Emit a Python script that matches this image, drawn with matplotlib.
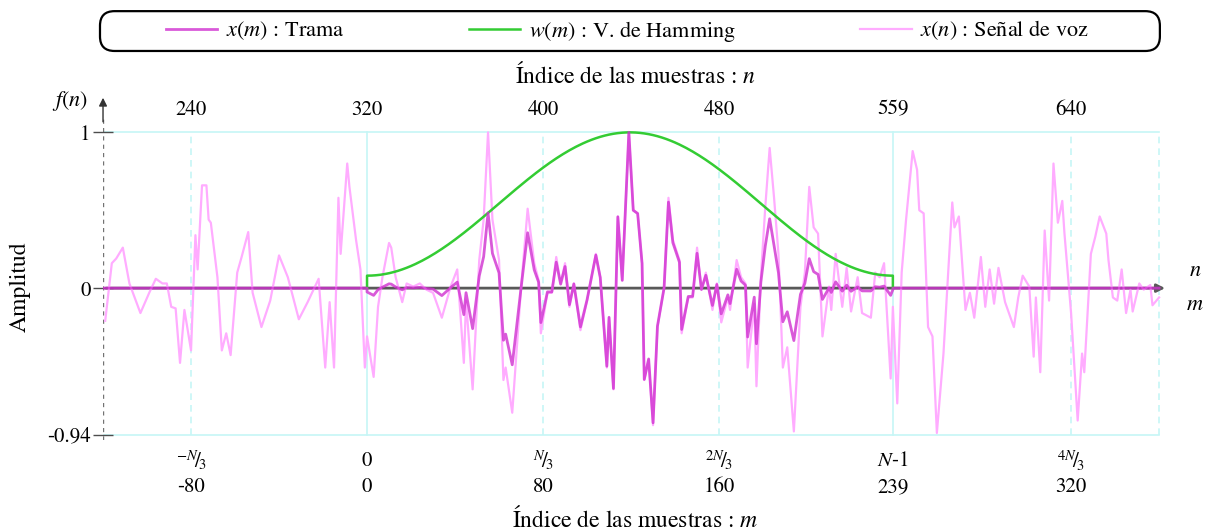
import numpy as np
import matplotlib
matplotlib.use("Agg")
import matplotlib.pyplot as plt
from matplotlib.patches import FancyBboxPatch
from matplotlib.transforms import blended_transform_factory

plt.rcParams['font.family'] = ['STIXGeneral', 'DejaVu Serif']
plt.rcParams['mathtext.fontset'] = 'stix'

# speech signal x(n) (sample index, amplitude)
n_sig = [201, 204, 206, 209, 212, 217, 221, 224, 227, 229, 231, 233, 235, 237, 240,
         242, 243, 245, 247, 248, 249, 252, 254, 256, 258, 261, 263, 266, 268, 272,
         276, 280, 284, 289, 293, 298, 301, 303, 305, 307, 308, 311, 312, 315, 317,
         319, 320, 323, 325, 327, 330, 331, 333, 336, 338, 341, 344, 347, 350, 354,
         358, 361, 364, 365, 368, 371, 373, 375, 377, 380, 382, 383, 386, 390, 393,
         396, 398, 399, 402, 404, 406, 408, 410, 412, 414, 417, 420, 424, 426, 429,
         430, 432, 434, 436, 439, 441, 443, 445, 446, 448, 450, 452, 455, 457, 459,
         462, 463, 466, 468, 470, 472, 474, 477, 479, 481, 484, 485, 488, 490, 492,
         493, 496, 497, 499, 501, 503, 505, 507, 509, 511, 514, 517, 519, 521, 523,
         525, 527, 530, 531, 533, 536, 538, 540, 543, 545, 549, 551, 553, 555, 558,
         559, 561, 563, 565, 568, 570, 571, 573, 575, 577, 579, 582, 586, 587, 589,
         592, 594, 596, 599, 601, 603, 605, 607, 610, 614, 616, 618, 621, 623, 624,
         626, 628, 630, 632, 634, 636, 637, 640, 643, 645, 646, 649, 651, 653, 656,
         657, 659, 661, 663, 665, 667, 668, 671, 673, 676, 677, 680]
x_sig = [-0.21, 0.16, 0.19, 0.26, 0.03, -0.16, -0.03, 0.06, 0.03, 0.03, -0.12, -0.13, -0.48, -0.14, -0.40,
         0.34, 0.12, 0.66, 0.66, 0.44, 0.42, 0.07, -0.40, -0.29, -0.43, 0.10, 0.20, 0.36, -0.03, -0.25,
         -0.08, 0.21, 0.07, -0.20, -0.09, 0.06, -0.51, -0.09, -0.51, 0.58, 0.22, 0.80, 0.65, 0.31, 0.12,
         -0.51, -0.31, -0.57, -0.12, 0.07, 0.29, 0.26, 0.07, -0.09, 0.03, 0.01, 0.03, -0.01, -0.03, -0.19,
         0.01, 0.12, -0.48, -0.08, -0.65, 0.18, 0.44, 1.00, 0.44, 0.18, -0.59, -0.51, -0.80, 0.00, 0.51,
         0.16, 0.05, -0.29, -0.03, -0.03, 0.20, 0.03, 0.16, -0.12, 0.03, -0.27, -0.08, 0.22, 0.07, -0.51,
         -0.19, -0.65, 0.46, 0.05, 1.00, 0.50, 0.48, 0.16, -0.59, -0.46, -0.88, -0.25, 0.00, 0.58, 0.31,
         0.18, -0.29, -0.06, -0.06, 0.26, -0.01, 0.10, -0.14, 0.03, -0.22, -0.06, -0.14, 0.18, 0.07, 0.03,
         -0.51, -0.10, -0.63, 0.07, 0.52, 0.90, 0.58, 0.22, -0.51, -0.38, -0.92, -0.12, 0.10, 0.65, 0.39,
         0.35, -0.31, 0.01, -0.14, 0.22, -0.12, 0.13, -0.15, 0.07, -0.16, -0.19, 0.10, 0.07, 0.16, -0.58,
         -0.12, -0.74, 0.10, 0.44, 0.88, 0.76, 0.50, 0.48, -0.25, -0.31, -0.93, -0.42, 0.55, 0.39, 0.46,
         -0.14, -0.03, -0.19, 0.20, -0.12, 0.12, -0.10, 0.13, -0.09, -0.25, -0.06, 0.08, 0.01, -0.44, -0.06,
         -0.54, 0.37, -0.08, 0.80, 0.42, 0.56, 0.35, -0.16, -0.85, -0.42, -0.54, 0.22, 0.33, 0.46, 0.35,
         0.18, -0.06, -0.08, 0.12, -0.16, -0.01, -0.15, 0.03, -0.01, 0.02, -0.11, -0.06]

frame_start = 320
N = 240
n_ticks = [240, 320, 400, 480, 559, 640]
m_ticks = [-80, 0, 80, 160, 239, 320]
m_names = [r'${}^{-N}\!/\!{}_{3}$', '0', r'${}^{N}\!/\!{}_{3}$', r'${}^{2N}\!/\!{}_{3}$',
           r'$N$-1', r'${}^{4N}\!/\!{}_{3}$']
y_ticks = [-0.94, 0, 1]
y_names = ['-0.94', '0', '1']

c_pink = '#ffacff'
c_mag = '#d030d0'
c_green = '#33cc33'
c_grid = '#c6f6f6'

n_sig = np.array(n_sig)
x_sig = np.array(x_sig)
win = np.hamming(N)

# frame x(m) = x(n) w(m), zero outside
inside = (n_sig >= frame_start) & (n_sig < frame_start + N)
n_fr = n_sig[inside]
x_fr = x_sig[inside] * win[n_fr - frame_start]
n_frame = np.concatenate([[200, frame_start], n_fr, [frame_start + N - 1, 680]])
x_frame = np.concatenate([[0, 0], x_fr, [0, 0]])

m_win = np.arange(N)
n_win = np.concatenate([[frame_start], m_win + frame_start, [frame_start + N - 1]])
w_win = np.concatenate([[0], win, [0]])

fig = plt.figure(figsize=(12.12, 5.31), dpi=100)
ax = fig.add_axes([0.085, 0.1714, 0.8786, 0.6497])
ax.set_xlim(200, 684)
ax.set_ylim(-0.975, 1.24)
for s in ax.spines.values():
    s.set_visible(False)

# grid
for t in n_ticks + [680]:
    ls = '-' if t in (frame_start, frame_start + N - 1) else (0, (4, 3))
    ax.plot([t, t], [-0.94, 1.0], color=c_grid, lw=1.2, ls=ls, zorder=0)
for yv in [1, -0.94]:
    ax.plot([200, 680], [yv, yv], color=c_grid, lw=1.2, zorder=0)

# axes lines
ax.plot([200, 200], [-0.975, 1.1], color='0.45', lw=1.0, ls=(0, (3, 3)), zorder=1)
ax.annotate('', xy=(200, 1.24), xytext=(200, 1.05),
            arrowprops=dict(arrowstyle='-|>', color='0.2', lw=1.0, mutation_scale=12))
ax.annotate('', xy=(684, 0), xytext=(200, 0),
            arrowprops=dict(arrowstyle='-|>', color='0.35', lw=2.0, mutation_scale=12),
            zorder=1)

ax.plot(n_sig, x_sig, color=c_pink, lw=1.6, zorder=2, label=r'$x(n)$ : Señal de voz')
ax.plot(n_win, w_win, color=c_green, lw=1.8, zorder=3, label=r'$w(m)$ : V. de Hamming')
ax.plot(n_frame, x_frame, color=c_mag, lw=2.0, alpha=0.8, zorder=4, label=r'$x(m)$ : Trama')

ax.set_yticks(y_ticks)
ax.set_yticklabels(y_names)
ax.tick_params(axis='y', direction='inout', length=14, width=1.0, color='0.3',
               labelsize=15, pad=2)
ax.set_xticks([])

tr = blended_transform_factory(ax.transData, ax.transAxes)
for t in n_ticks:
    ax.text(t, 0.957, str(t), transform=tr, ha='center', va='center', fontsize=15)
for t, lab, mv in zip(n_ticks, m_names, m_ticks):
    ax.text(t, -0.06, lab, transform=tr, ha='center', va='center', fontsize=15)
    ax.text(t, -0.138, str(mv), transform=tr, ha='center', va='center', fontsize=15)

ax.text(0.5, 1.058, 'Índice de las muestras : $n$', transform=ax.transAxes,
        ha='center', va='center', fontsize=17)
ax.text(0.5, -0.228, 'Índice de las muestras : $m$', transform=ax.transAxes,
        ha='center', va='center', fontsize=17)
fig.text(0.0165, 0.46, 'Amplitud', rotation=90, ha='center', va='center', fontsize=17)
fig.text(0.058, 0.81, '$f(n)$', ha='center', va='center', fontsize=16)
fig.text(0.986, 0.49, '$n$', ha='center', va='center', fontsize=16)
fig.text(0.986, 0.425, '$m$', ha='center', va='center', fontsize=16)

# legend box drawn separately so the entries keep their inner margins
box = FancyBboxPatch((0.0825, 0.904), 0.8745, 0.075, transform=fig.transFigure,
                     boxstyle='round,pad=0,rounding_size=0.012', fc='white',
                     ec='black', lw=1.6, mutation_aspect=12.12 / 5.31)
fig.patches.append(box)
h, l = ax.get_legend_handles_labels()
leg = fig.legend(h[::-1], l[::-1], ncol=3, mode='expand', loc='center left',
                 bbox_to_anchor=(0.128, 0.9415, 0.78, 0.0), fontsize=16,
                 handlelength=2.3, handletextpad=0.4, frameon=False, borderpad=0)

fig.savefig('out.png', dpi=100)
